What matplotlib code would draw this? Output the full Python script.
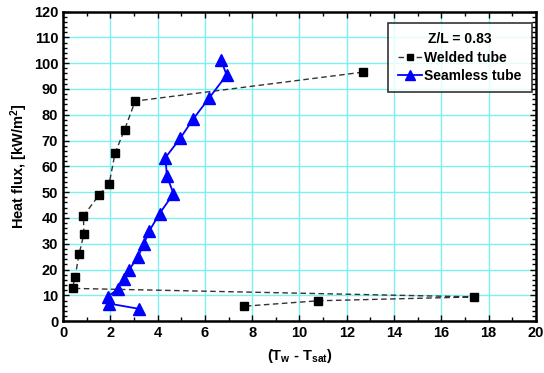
import numpy as np
import matplotlib.pyplot as plt
from matplotlib.ticker import MultipleLocator

plt.rcParams['font.family'] = ['Liberation Sans', 'DejaVu Sans']
plt.rcParams['font.weight'] = 'bold'
plt.rcParams['mathtext.fontset'] = 'custom'
plt.rcParams['mathtext.rm'] = 'Liberation Sans:bold'
plt.rcParams['mathtext.bf'] = 'Liberation Sans:bold'
plt.rcParams['mathtext.default'] = 'bf'

# welded tube (in order of decreasing heat flux)
welded_dT = [12.67, 3.05, 2.6, 2.2, 1.95, 1.53, 0.86, 0.88, 0.68, 0.51, 0.4, 17.4, 10.8, 7.67]
welded_q = [96.5, 85.3, 74.2, 65.2, 53.3, 49.0, 40.8, 33.7, 26.2, 17.3, 12.7, 9.4, 7.9, 5.8]

# seamless tube
seamless_dT = [6.67, 6.92, 6.17, 5.5, 4.95, 4.33, 4.39, 4.67, 4.08, 3.65, 3.41, 3.16, 2.8,
               2.56, 2.31, 1.88, 1.95, 3.2]
seamless_q = [101.4, 95.4, 86.4, 78.3, 70.8, 63.4, 56.3, 49.4, 41.7, 35.0, 29.8, 24.9, 20.0,
              16.5, 12.4, 9.4, 6.8, 4.8]

fig = plt.figure(figsize=(5.44, 3.73), dpi=100)
ax = fig.add_axes([0.116, 0.139, 0.869, 0.830])

ax.plot(welded_dT, welded_q, linestyle=(0, (4, 2.5)), color='#333333', lw=1.0,
        marker='s', markersize=6, markerfacecolor='black', markeredgecolor='black',
        label='Welded tube', zorder=3)
ax.plot(seamless_dT, seamless_q, '-', color='blue', lw=1.3,
        marker='^', markersize=9, markerfacecolor='blue', markeredgecolor='blue',
        label='Seamless tube', zorder=3)

ax.set_xlim(0, 20)
ax.set_ylim(0, 120)
ax.xaxis.set_major_locator(MultipleLocator(2))
ax.xaxis.set_minor_locator(MultipleLocator(1))
ax.yaxis.set_major_locator(MultipleLocator(10))
ax.yaxis.set_minor_locator(MultipleLocator(2))
ax.grid(True, which='major', color='#7FF0F0', lw=1.0, zorder=0)
ax.tick_params(which='both', direction='in', top=True, right=True, labelsize=10.5)
ax.tick_params(which='major', length=4, width=1)
ax.tick_params(which='minor', length=3, width=1)
for s in ax.spines.values():
    s.set_linewidth(1.8)

ax.set_xlabel('(T$_w$ - T$_{sat}$)', fontsize=10.5, fontweight='bold', labelpad=5)
ax.set_ylabel('Heat flux, [kW/m$^2$]', fontsize=10.5, fontweight='bold', labelpad=3)

leg = ax.legend(title='Z/L = 0.83', loc='upper right', bbox_to_anchor=(0.991, 0.964),
                borderaxespad=0, fontsize=10, title_fontsize=10, frameon=True,
                fancybox=False, edgecolor='black', handlelength=1.7, handletextpad=0.2,
                borderpad=0.7, labelspacing=0.3, markerscale=0.8)
leg.get_frame().set_linewidth(1.2)
leg.get_title().set_fontweight('bold')

fig.savefig('out.png', dpi=100)
